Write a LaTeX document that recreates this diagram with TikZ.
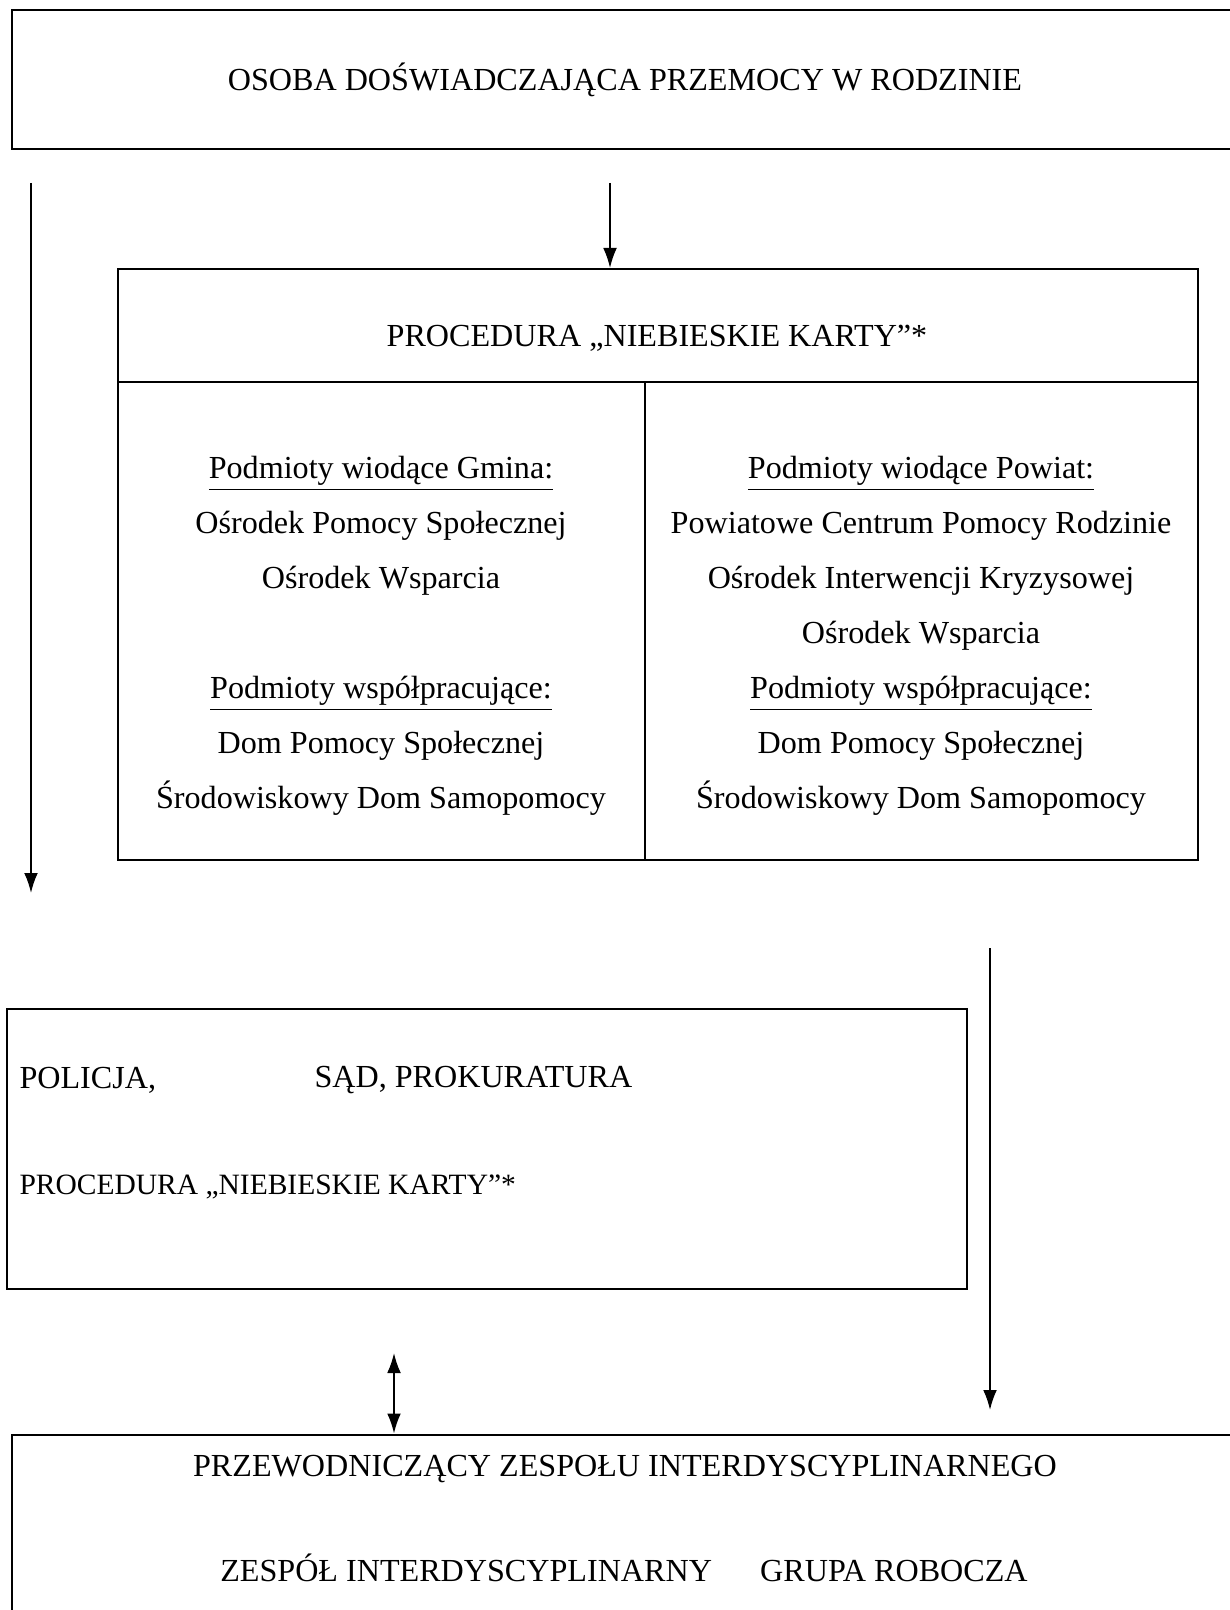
\documentclass[tikz,border=0pt]{standalone}
\usepackage{fontspec}
\setmainfont{Liberation Serif}
\usetikzlibrary{arrows.meta}

\begin{document}
\begin{tikzpicture}[x=0.4pt,y=-0.4pt,
	box/.style={draw,line width=0.8pt,rectangle,inner sep=0pt},
	txt/.style={font=\fontsize{12.85}{22}\selectfont,inner sep=0pt,align=center},
	small/.style={font=\fontsize{11.8}{13}\selectfont,inner sep=0pt,anchor=west},
	arr/.style={-{Latex[length=8pt,width=5.5pt]},line width=0.7pt}]
	\useasboundingbox (0,0) rectangle (1229,1610);
	\node[box,txt,minimum width=490.4pt,minimum height=55.6pt] (osoba) at (625,80) {OSOBA DOŚWIADCZAJĄCA PRZEMOCY W RODZINIE};
	\node[box,minimum width=432pt,minimum height=236.4pt] (proc) at (658,564.5) {};
	\coordinate (hl) at (118,382);
	\coordinate (hr) at (1198,382);
	\coordinate (vd) at (645,382);
	\draw[line width=0.8pt] (hl) -- (hr);
	\draw[line width=0.5pt] (vd) -- (vd |- proc.south);
	\node[txt] (proctxt) at (657,338) {PROCEDURA „NIEBIESKIE KARTY”*};
	\node[txt] (gmina) at (381,636) {\underline{Podmioty wiodące Gmina:}\\
		Ośrodek Pomocy Społecznej\\
		Ośrodek Wsparcia\\
		\mbox{}\\
		\underline{Podmioty współpracujące:}\\
		Dom Pomocy Społecznej\\
		Środowiskowy Dom Samopomocy};
	\node[txt] (powiat) at (921,636) {\underline{Podmioty wiodące Powiat:}\\
		Powiatowe Centrum Pomocy Rodzinie\\
		Ośrodek Interwencji Kryzysowej\\
		Ośrodek Wsparcia\\
		\underline{Podmioty współpracujące:}\\
		Dom Pomocy Społecznej\\
		Środowiskowy Dom Samopomocy};
	\node[box,minimum width=384pt,minimum height=112pt] (policja) at (487,1149) {};
	\node[txt,anchor=west] (pol) at (19,1080) {POLICJA,};
	\node[txt,anchor=west] (sad) at (314,1080) {SĄD, PROKURATURA};
	\node[small] (polproc) at (19,1187) {PROCEDURA „NIEBIESKIE KARTY”*};
	\node[box,minimum width=491.2pt,minimum height=76.4pt] (zespol) at (626,1530) {};
	\node[txt] (przew) at (625,1469) {PRZEWODNICZĄCY ZESPOŁU INTERDYSCYPLINARNEGO};
	\node[txt] (grupa) at (624,1568) {ZESPÓŁ INTERDYSCYPLINARNY\hspace{1.5em}GRUPA ROBOCZA};
	\coordinate (l1) at (31,183);
	\coordinate (l2) at (31,893);
	\coordinate (m1) at (610,183);
	\coordinate (r1) at (990,948);
	\coordinate (r2) at (990,1410);
	\coordinate (d1) at (394,1353);
	\draw[arr] (l1) -- (l2);
	\draw[arr] (m1) -- (m1 |- proc.north);
	\draw[arr] (r1) -- (r2);
	\draw[arr,{Latex[length=8pt,width=5.5pt]}-{Latex[length=8pt,width=5.5pt]}] (d1) -- (d1 |- zespol.north);
\end{tikzpicture}
\end{document}
